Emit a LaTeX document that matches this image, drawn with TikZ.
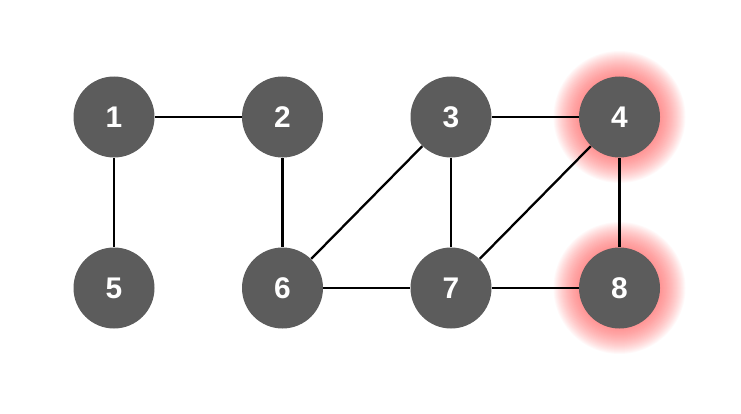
\documentclass[tikz,border=0pt]{standalone}
\usepackage{fontspec}
\setsansfont{Liberation Sans}
\usetikzlibrary{positioning,backgrounds}
\definecolor{nodegray}{RGB}{92,92,92}
\definecolor{glowred}{RGB}{255,80,80}

\begin{document}
\begin{tikzpicture}[
    node distance=3.37cm,
    vertex/.style={circle, fill=nodegray, minimum size=1.62cm, inner sep=0pt, text=white, font=\sffamily\bfseries\fontsize{17}{17}\selectfont},
    edge/.style={line width=1.3pt, black}
]
    \useasboundingbox (0,0) rectangle (14.82,-8.26);

    \node[vertex] (n1) at (2.28,-2.34) {1};
    \node[vertex, right of=n1] (n2) {2};
    \node[vertex, right of=n2] (n3) {3};
    \node[vertex, right of=n3] (n4) {4};

    \node[vertex, below of=n1, node distance=3.42cm] (n5) {5};
    \node[vertex, right of=n5] (n6) {6};
    \node[vertex, right of=n6] (n7) {7};
    \node[vertex, right of=n7] (n8) {8};

    % red glow behind 4 and 8
    \begin{scope}[on background layer]
        \foreach \v in {n4,n8}
            \foreach \r in {0.82,0.84,...,1.32}
                \fill[glowred, opacity=0.035] (\v) circle (\r);
    \end{scope}

    \draw[edge] (n1) -- (n2);
    \draw[edge] (n1) -- (n5);
    \draw[edge] (n2) -- (n6);
    \draw[edge] (n3) -- (n4);
    \draw[edge] (n3) -- (n6);
    \draw[edge] (n3) -- (n7);
    \draw[edge] (n4) -- (n7);
    \draw[edge] (n4) -- (n8);
    \draw[edge] (n6) -- (n7);
    \draw[edge] (n7) -- (n8);
\end{tikzpicture}
\end{document}
